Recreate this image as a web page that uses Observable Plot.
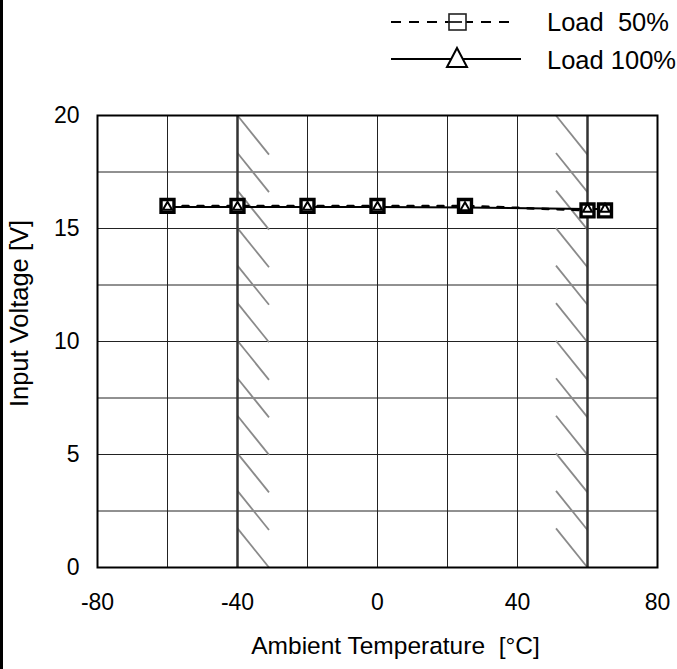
<!DOCTYPE html>
<html>
<head>
<meta charset="utf-8">
<script src="https://cdn.jsdelivr.net/npm/d3@7"></script>
<script src="https://cdn.jsdelivr.net/npm/@observablehq/plot@0.6"></script>
<style>
  html, body { margin: 0; padding: 0; background: #fff; }
  #chart { width: 677px; height: 669px; overflow: hidden; position: relative; }
</style>
</head>
<body>
<div id="chart"></div>
<script>
// ---- data ----
const temps = [-60, -40, -20, 0, 25, 60, 65];
const load50 = [16.0, 16.0, 16.0, 16.0, 16.0, 15.8, 15.8];
const load100 = [15.95, 15.95, 15.95, 15.95, 15.93, 15.86, 15.86];
const seriesNames = ["Load  50%", "Load 100%"];
const xTicks = [-80, -40, 0, 40, 80];
const yTicks = [0, 5, 10, 15, 20];
const xGrid = [-80, -60, -40, -20, 0, 20, 40, 60, 80];
const yGrid = [0, 2.5, 5, 7.5, 10, 12.5, 15, 17.5, 20];
const limitLines = [-40, 60];
const hatchLeft = [-40, -31];   // hatch starts on the limit line
const hatchRight = [51, 60];    // hatch ends on the limit line
const xLabel = "Ambient Temperature  [°C]";
const yLabel = "Input Voltage [V]";

const rows50 = temps.map((t, i) => ({t, v: load50[i]}));
const rows100 = temps.map((t, i) => ({t, v: load100[i]}));

// hatch segments (decorative)
const nH = 12, drop = 1.73, step = (20 - drop) / (nH - 1);
const hatch = [];
for (let k = 0; k < nH; k++) {
  const y0 = 20 - k * step;
  hatch.push({x1: hatchLeft[0], y1: y0, x2: hatchLeft[1], y2: y0 - drop});
  const y1 = k * step;
  hatch.push({x1: hatchRight[0], y1: y1 + drop, x2: hatchRight[1], y2: y1});
}

const font = "'Liberation Sans', Arial, sans-serif";
const plot = Plot.plot({
  width: 677,
  height: 669,
  marginLeft: 97,
  marginRight: 20,
  marginTop: 115,
  marginBottom: 102,
  style: {fontFamily: font, fontSize: "23px", background: "#fff", color: "#000", overflow: "visible"},
  x: {domain: [-80, 80], ticks: xTicks, tickSize: 0, tickPadding: 26, label: null, tickFormat: d => String(d)},
  y: {domain: [0, 20], ticks: yTicks, tickSize: 0, tickPadding: 18, label: null, tickFormat: d => String(d)},
  marks: [
    Plot.ruleX(xGrid, {stroke: "#222", strokeWidth: 1}),
    Plot.ruleY(yGrid, {stroke: "#222", strokeWidth: 1}),
    Plot.link(hatch, {x1: "x1", y1: "y1", x2: "x2", y2: "y2", stroke: "#8a8a8a", strokeWidth: 1.8}),
    Plot.ruleX(limitLines, {stroke: "#333", strokeWidth: 2.5}),
    Plot.line(rows50, {x: "t", y: "v", stroke: "#000", strokeWidth: 2.5, strokeDasharray: "6,9"}),
    Plot.line(rows100, {x: "t", y: "v", stroke: "#000", strokeWidth: 2}),
    Plot.dot(rows50, {x: "t", y: "v", symbol: "square", r: 7.3, stroke: "#000", strokeWidth: 3.4, fill: "#fff"}),
    Plot.dot(rows100, {x: "t", y: "v", symbol: "triangle", r: 3.4, stroke: "#000", strokeWidth: 2, fill: "#fff"}),
    Plot.frame({stroke: "#000", strokeWidth: 2}),
    Plot.text([xLabel], {frameAnchor: "bottom", dx: 18, dy: 86, text: d => d, fontSize: 24.5, fill: "#000", textAnchor: "middle"}),
    Plot.text([yLabel], {frameAnchor: "left", dx: -78, dy: -28, rotate: -90, text: d => d, fontSize: 25.5, fill: "#000", textAnchor: "middle"})
  ]
});
document.getElementById("chart").appendChild(plot);

// legend + left border
const svg = d3.select(plot);
const lg = svg.append("g").attr("font-family", font).attr("font-size", 25.5).attr("text-anchor", "start");
// row 1: dashed + square
lg.append("line").attr("x1", 391).attr("x2", 514).attr("y1", 22).attr("y2", 22)
  .attr("stroke", "#000").attr("stroke-width", 2).attr("stroke-dasharray", "10,8");
lg.append("rect").attr("x", 449).attr("y", 14).attr("width", 17).attr("height", 16)
  .attr("fill", "#fff").attr("stroke", "#222").attr("stroke-width", 1.6);
lg.append("line").attr("x1", 449).attr("x2", 462).attr("y1", 22).attr("y2", 22)
  .attr("stroke", "#000").attr("stroke-width", 1.6);
lg.append("text").attr("x", 547).attr("y", 22).attr("dy", "0.35em").attr("xml:space", "preserve").style("white-space", "pre").text(seriesNames[0]);
// row 2: solid + triangle
lg.append("line").attr("x1", 391).attr("x2", 521).attr("y1", 59).attr("y2", 59)
  .attr("stroke", "#000").attr("stroke-width", 2);
lg.append("path").attr("d", "M457,48 L467,67 L447,67 Z")
  .attr("fill", "#fff").attr("stroke", "#000").attr("stroke-width", 2);
lg.append("text").attr("x", 547).attr("y", 60).attr("dy", "0.35em").text(seriesNames[1]);
svg.append("rect").attr("x", 0).attr("y", 0).attr("width", 3).attr("height", 669).attr("fill", "#000");
</script>
</body>
</html>
